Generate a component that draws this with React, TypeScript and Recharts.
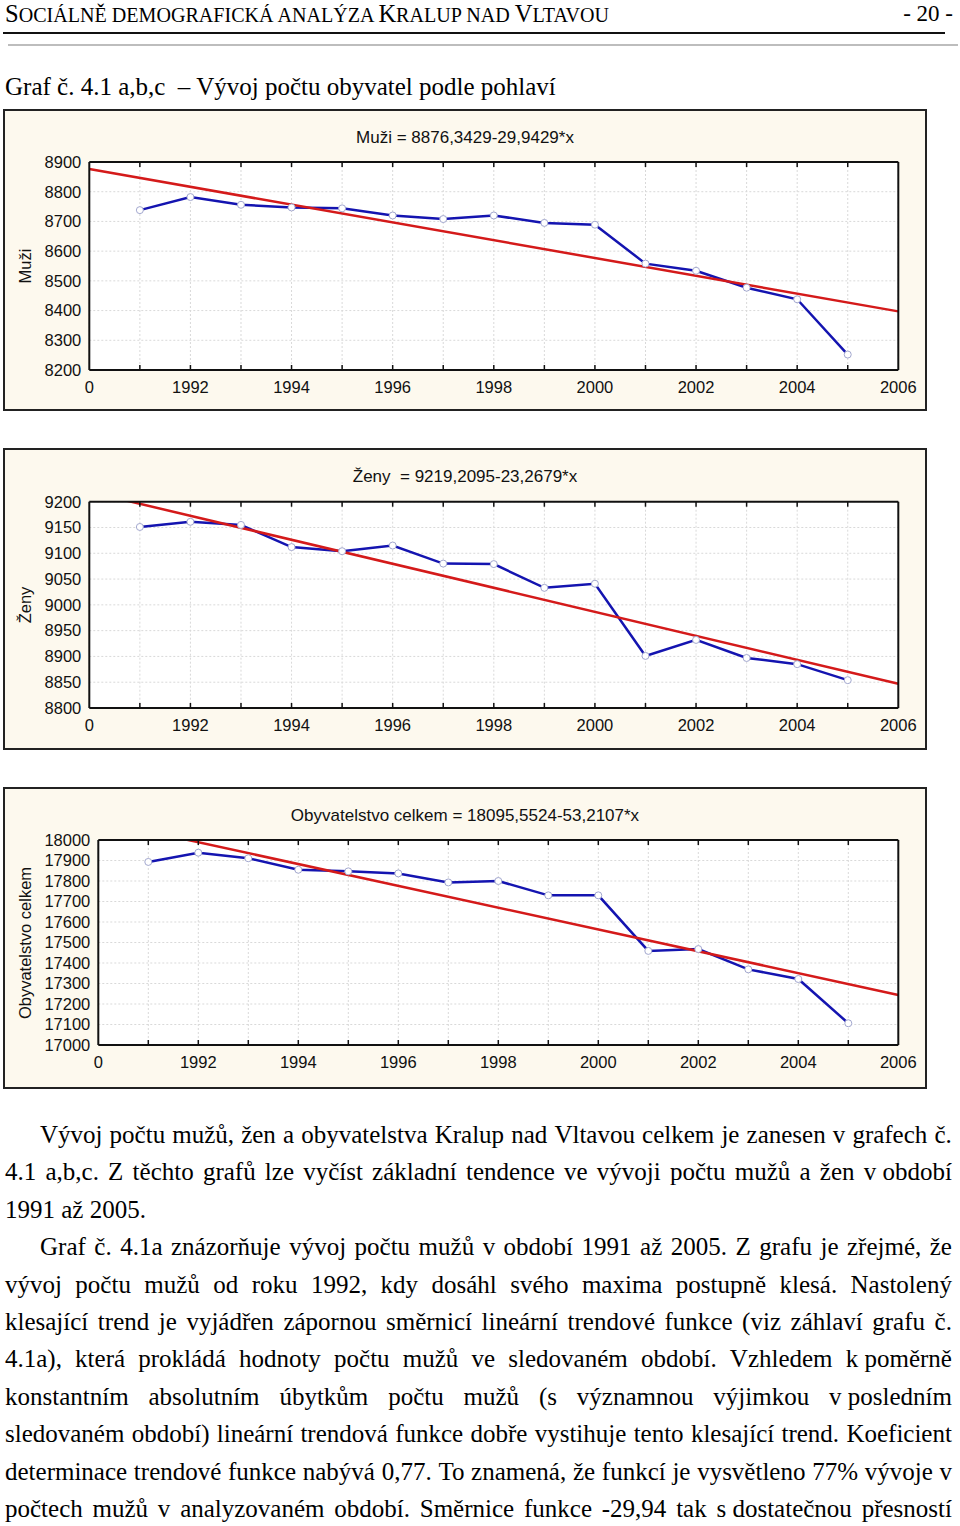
import React from 'react';
import { LineChart, Line, XAxis, YAxis, CartesianGrid, ReferenceLine } from 'recharts';

// roky 1991-2005, hodnoty odečtené z grafů
const years = [1991, 1992, 1993, 1994, 1995, 1996, 1997, 1998, 1999, 2000, 2001, 2002, 2003, 2004, 2005];
const muzi = [8738, 8782, 8756, 8747, 8744, 8720, 8708, 8720, 8695, 8689, 8558, 8534, 8477, 8438, 8252];
const zeny = [9151, 9161, 9155, 9112, 9104, 9115, 9080, 9079, 9033, 9041, 8901, 8932, 8897, 8885, 8854];
const celkem = [17893, 17938, 17911, 17855, 17847, 17837, 17793, 17800, 17730, 17730, 17459, 17468, 17369, 17322, 17106];

const xLabelTicks = [1990, 1992, 1994, 1996, 1998, 2000, 2002, 2004, 2006];
const muziTicks = [8200, 8300, 8400, 8500, 8600, 8700, 8800, 8900];
const zenyTicks = [8800, 8850, 8900, 8950, 9000, 9050, 9100, 9150, 9200];
const celkemTicks = [17000, 17100, 17200, 17300, 17400, 17500, 17600, 17700, 17800, 17900, 18000];

// koeficienty trendu y = a + b*x, x = rok - 1990
const muziTrend = { a: 8876.3429, b: -29.9429 };
const zenyTrend = { a: 9219.2095, b: -23.2679 };
const celkemTrend = { a: 18095.5524, b: -53.2107 };

const panels = [
  { title: 'Muži = 8876,3429-29,9429*x', label: 'Muži', values: muzi, ticks: muziTicks, trend: muziTrend, top: 109, plotTop: 162, plotBottom: 370, plotLeft: 89.3 },
  { title: 'Ženy  = 9219,2095-23,2679*x', label: 'Ženy', values: zeny, ticks: zenyTicks, trend: zenyTrend, top: 448, plotTop: 501.7, plotBottom: 708, plotLeft: 89.3 },
  { title: 'Obyvatelstvo celkem = 18095,5524-53,2107*x', label: 'Obyvatelstvo celkem', values: celkem, ticks: celkemTicks, trend: celkemTrend, top: 787, plotTop: 840, plotBottom: 1045, plotLeft: 98.3 },
];

const PANEL_W = 924;
const PANEL_H = 302;
const PLOT_RIGHT = 898.3;
const ink = '#111';
const sans = '"Liberation Sans", Arial, sans-serif';
const noLabel = () => '';

function Panel({ p }: { p: (typeof panels)[number] }) {
  const rows = years.map((year, i) => ({ year, value: p.values[i] }));
  const domain: [number, number] = [p.ticks[0], p.ticks[p.ticks.length - 1]];
  const yAxisW = 60;
  const xAxisH = 30;
  const margin = {
    top: p.plotTop - p.top,
    bottom: p.top + PANEL_H - p.plotBottom - xAxisH,
    left: p.plotLeft - 3 - yAxisW,
    right: 3 + PANEL_W - PLOT_RIGHT,
  };
  const segment = [
    { x: 1990, y: p.trend.a },
    { x: 2006, y: p.trend.a + 16 * p.trend.b },
  ];
  const plotMid = (p.plotTop + p.plotBottom) / 2;

  return (
    <>
      <div style={{ position: 'absolute', left: 3, top: p.top, width: PANEL_W, height: PANEL_H, boxSizing: 'border-box', border: '2px solid #222', background: '#fdf9ee' }} />
      <div style={{ position: 'absolute', left: 3, width: PANEL_W, top: p.top + 19, textAlign: 'center', fontSize: 17, lineHeight: '20px', color: ink, fontFamily: sans, whiteSpace: 'pre' }}>
        {p.title}
      </div>
      <div style={{ position: 'absolute', left: 25, top: plotMid, transform: 'translate(-50%, -50%) rotate(-90deg)', fontSize: 16.5, color: ink, fontFamily: sans, whiteSpace: 'nowrap' }}>
        {p.label}
      </div>
      <div style={{ position: 'absolute', left: 3, top: p.top, fontFamily: sans }}>
        <LineChart width={PANEL_W} height={PANEL_H} data={rows} margin={margin}>
          <CartesianGrid xAxisId="top" yAxisId="left" stroke="#d9d9d9" strokeDasharray="2 2" fill="#fff" />
          <XAxis xAxisId="bottom" dataKey="year" type="number" domain={[1990, 2006]} ticks={xLabelTicks} interval={0}
            tickFormatter={(v: number) => (v === 1990 ? '0' : String(v))} tickLine={false} tickSize={0} tickMargin={11}
            axisLine={{ stroke: ink, strokeWidth: 2 }} tick={{ fill: ink, fontSize: 16.5 }} height={xAxisH} />
          <XAxis xAxisId="minor" dataKey="year" type="number" domain={[1990, 2006]} ticks={years} interval={0}
            orientation="bottom" mirror tickFormatter={noLabel} tickSize={5} tickLine={{ stroke: ink, strokeWidth: 1.5 }} axisLine={false} />
          <XAxis xAxisId="top" dataKey="year" type="number" domain={[1990, 2006]} ticks={years} interval={0}
            orientation="top" mirror tickFormatter={noLabel} tickSize={5} tickLine={{ stroke: ink, strokeWidth: 1.5 }} axisLine={{ stroke: ink, strokeWidth: 2 }} />
          <YAxis yAxisId="left" type="number" domain={domain} ticks={p.ticks} interval={0} width={yAxisW}
            tickLine={false} tickSize={0} tickMargin={8} axisLine={{ stroke: ink, strokeWidth: 2 }} tick={{ fill: ink, fontSize: 16.5 }} />
          <YAxis yAxisId="right" orientation="right" mirror type="number" domain={domain} ticks={p.ticks} interval={0}
            tickFormatter={noLabel} tickSize={5} tickLine={{ stroke: ink, strokeWidth: 1.5 }} axisLine={{ stroke: ink, strokeWidth: 2 }} />
          <Line xAxisId="bottom" yAxisId="left" type="linear" dataKey="value" stroke="#1414b0" strokeWidth={2.5}
            dot={{ r: 3.5, fill: '#fff', stroke: '#a3a8cf', strokeWidth: 1 }} activeDot={false} isAnimationActive={false} />
          <ReferenceLine xAxisId="bottom" yAxisId="left" segment={segment} stroke="#d41a1a" strokeWidth={2.5} ifOverflow="hidden" />
        </LineChart>
      </div>
    </>
  );
}

const bodyLines: { text: string; indent?: boolean; last?: boolean }[] = [
  { text: 'Vývoj počtu mužů, žen a obyvatelstva Kralup nad Vltavou celkem je zanesen v grafech č.', indent: true },
  { text: '4.1 a,b,c. Z těchto grafů lze vyčíst základní tendence ve vývoji počtu mužů a žen v\u00a0období' },
  { text: '1991 až 2005.', last: true },
  { text: 'Graf č. 4.1a znázorňuje vývoj počtu mužů v období 1991 až 2005. Z grafu je zřejmé, že', indent: true },
  { text: 'vývoj počtu mužů od roku 1992, kdy dosáhl svého maxima postupně klesá. Nastolený' },
  { text: 'klesající trend je vyjádřen zápornou směrnicí lineární trendové funkce (viz záhlaví grafu č.' },
  { text: '4.1a), která prokládá hodnoty počtu mužů ve sledovaném období. Vzhledem k\u00a0poměrně' },
  { text: 'konstantním absolutním úbytkům počtu mužů (s významnou výjimkou v\u00a0posledním' },
  { text: 'sledovaném období) lineární trendová funkce dobře vystihuje tento klesající trend. Koeficient' },
  { text: 'determinace trendové funkce nabývá 0,77. To znamená, že funkcí je vysvětleno 77% vývoje v' },
  { text: 'počtech mužů v analyzovaném období. Směrnice funkce -29,94 tak s\u00a0dostatečnou přesností' },
];

const serif = '"Liberation Serif", "Times New Roman", serif';
const small = { fontSize: '0.82em', textTransform: 'uppercase' as const };

export default function App() {
  return (
    <div style={{ position: 'absolute', left: 0, top: 0, width: 960, height: 1526, background: '#fff', color: '#000', fontFamily: serif, overflow: 'hidden' }}>
      <div style={{ position: 'absolute', left: 5, top: 0, fontSize: 24.5, lineHeight: '28px', whiteSpace: 'pre' }}>
        S<span style={small}>ociálně demografická analýza </span>K<span style={small}>ralup nad </span>V<span style={small}>ltavou</span>
      </div>
      <div style={{ position: 'absolute', left: 0, width: 953, top: 0, textAlign: 'right', fontSize: 23, lineHeight: '28px' }}>- 20 -</div>
      <div style={{ position: 'absolute', left: 3, top: 32, width: 942, height: 2, background: '#111' }} />
      <div style={{ position: 'absolute', left: 8, top: 44, width: 950, height: 2, background: '#bdbdbd' }} />
      <div style={{ position: 'absolute', left: 5, top: 71, fontSize: 25, lineHeight: '32px', whiteSpace: 'pre' }}>
        Graf č. 4.1 a,b,c  – Vývoj počtu obyvatel podle pohlaví
      </div>

      {panels.map((p) => (
        <Panel key={p.label} p={p} />
      ))}

      {bodyLines.map((ln, i) => {
        const left = ln.indent ? 40 : 5;
        const words = ln.text.split(' ');
        return (
          <div key={i} style={{ position: 'absolute', left, top: 1116 + i * 37.4, width: 952 - left, height: 37.4, lineHeight: '37.4px', fontSize: 25, display: 'flex', justifyContent: ln.last ? 'flex-start' : 'space-between', gap: ln.last ? '0.25em' : 0, whiteSpace: 'pre' }}>
            {words.map((w, j) => (
              <span key={j}>{w}</span>
            ))}
          </div>
        );
      })}
    </div>
  );
}
